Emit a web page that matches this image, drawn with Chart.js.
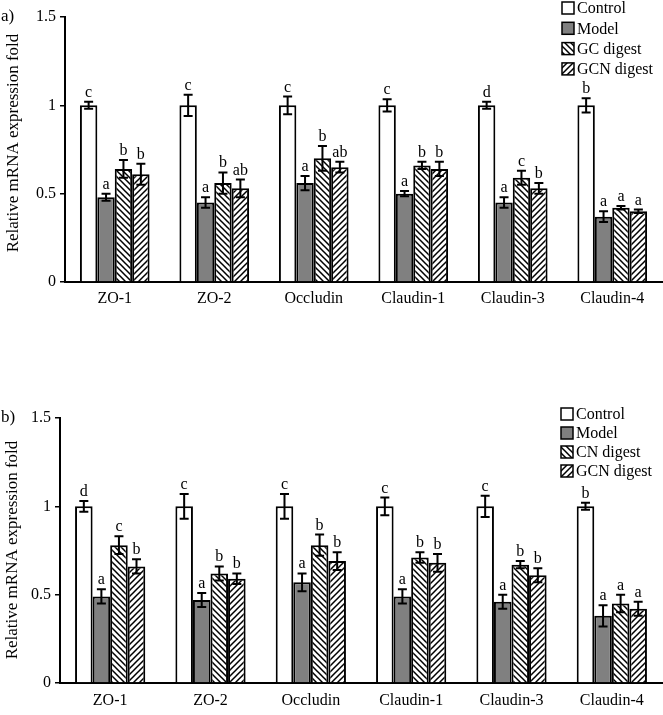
<!DOCTYPE html>
<html><head><meta charset="utf-8">
<script src="https://cdn.jsdelivr.net/npm/chart.js@4"></script>
<style>
body{margin:0;background:#fff;width:663px;height:715px;overflow:hidden;position:relative}
canvas{position:absolute;left:0}
#ca{top:0}
#cb{top:390px}
</style></head><body>
<canvas id="ca" width="663" height="310"></canvas>
<canvas id="cb" width="663" height="325"></canvas>
<script>
const categories = ['ZO-1','ZO-2','Occludin','Claudin-1','Claudin-3','Claudin-4'];
const seriesA = ['Control','Model','GC digest','GCN digest'];
const seriesB = ['Control','Model','CN digest','GCN digest'];
const yTicks = [0, 0.5, 1, 1.5];
const yTickLabels = ['0', '0.5', '1', '1.5'];
const yTitle = 'Relative mRNA expression fold';

// Panel a values
const controlA = [1.00, 1.00, 1.00, 1.00, 1.00, 1.00];
const modelA   = [0.48, 0.45, 0.56, 0.50, 0.45, 0.37];
const gcA      = [0.64, 0.56, 0.70, 0.66, 0.59, 0.42];
const gcnA     = [0.61, 0.53, 0.65, 0.64, 0.53, 0.40];
// Panel a error (± SD)
const controlErrA = [0.02, 0.06, 0.05, 0.035, 0.02, 0.04];
const modelErrA   = [0.02, 0.03, 0.04, 0.015, 0.03, 0.03];
const gcErrA      = [0.05, 0.06, 0.07, 0.02, 0.04, 0.01];
const gcnErrA     = [0.06, 0.05, 0.03, 0.04, 0.03, 0.01];
// Panel a letters
const controlLetA = ['c','c','c','c','d','b'];
const modelLetA   = ['a','a','a','a','a','a'];
const gcLetA      = ['b','b','b','b','c','a'];
const gcnLetA     = ['b','ab','ab','b','b','a'];

// Panel b values
const controlB = [1.00, 1.00, 1.00, 1.00, 1.00, 1.00];
const modelB   = [0.49, 0.47, 0.57, 0.49, 0.46, 0.38];
const cnB      = [0.78, 0.62, 0.78, 0.71, 0.67, 0.45];
const gcnB     = [0.66, 0.59, 0.69, 0.68, 0.61, 0.42];
// Panel b errors
const controlErrB = [0.03, 0.07, 0.07, 0.05, 0.06, 0.02];
const modelErrB   = [0.04, 0.04, 0.05, 0.04, 0.04, 0.06];
const cnErrB      = [0.05, 0.04, 0.06, 0.03, 0.02, 0.05];
const gcnErrB     = [0.04, 0.03, 0.05, 0.05, 0.04, 0.04];
// Panel b letters
const controlLetB = ['d','c','c','c','c','b'];
const modelLetB   = ['a','a','a','a','a','a'];
const cnLetB      = ['c','b','b','b','b','a'];
const gcnLetB     = ['b','b','b','b','b','a'];

const SERIF = '"Liberation Serif", "Times New Roman", serif';

function hatch(ctx, dir){
  const s = 6;
  const c = document.createElement('canvas');
  c.width = s; c.height = s;
  const g = c.getContext('2d');
  g.fillStyle = '#fff'; g.fillRect(0,0,s,s);
  g.strokeStyle = '#000'; g.lineWidth = 1.5; g.lineCap = 'square';
  g.beginPath();
  if (dir === 'back') {
    g.moveTo(-1,-1); g.lineTo(s+1,s+1);
    g.moveTo(-1,s-1); g.lineTo(1,s+1);
    g.moveTo(s-1,-1); g.lineTo(s+1,1);
  } else {
    g.moveTo(-1,s+1); g.lineTo(s+1,-1);
    g.moveTo(-1,1); g.lineTo(1,-1);
    g.moveTo(s-1,s+1); g.lineTo(s+1,s-1);
  }
  g.stroke();
  return ctx.createPattern(c, 'repeat');
}

const annotPlugin = {
  id: 'annot',
  afterDatasetsDraw(chart) {
    const o = chart.options.plugins.annot;
    const ctx = chart.ctx;
    const ys = chart.scales.y;
    ctx.save();
    chart.data.datasets.forEach((ds, i) => {
      const meta = chart.getDatasetMeta(i);
      meta.data.forEach((bar, j) => {
        const v = ds.data[j], e = o.errors[i][j];
        const yt = ys.getPixelForValue(v + e), yb = ys.getPixelForValue(v - e);
        ctx.strokeStyle = '#000'; ctx.lineWidth = 2;
        ctx.beginPath();
        ctx.moveTo(bar.x, yt); ctx.lineTo(bar.x, yb);
        ctx.moveTo(bar.x - 4.5, yt); ctx.lineTo(bar.x + 4.5, yt);
        ctx.moveTo(bar.x - 4.5, yb); ctx.lineTo(bar.x + 4.5, yb);
        ctx.stroke();
        ctx.fillStyle = '#000';
        ctx.font = '16px ' + SERIF;
        ctx.textAlign = 'center'; ctx.textBaseline = 'alphabetic';
        ctx.fillText(o.letters[i][j], bar.x, yt - 5);
      });
    });
    // legend
    chart.data.datasets.forEach((ds, i) => {
      const y = o.legY + i * o.legGap;
      ctx.fillStyle = ds.backgroundColor;
      ctx.fillRect(o.legX, y - 6, 12, 12);
      ctx.strokeStyle = '#000'; ctx.lineWidth = 1.5;
      ctx.strokeRect(o.legX, y - 6, 12, 12);
      ctx.fillStyle = '#000';
      ctx.font = '16px ' + SERIF;
      ctx.textAlign = 'left'; ctx.textBaseline = 'middle';
      ctx.fillText(ds.label, o.legX + 15, y + 1);
    });
    // y-axis title
    ctx.save();
    ctx.translate(o.titleX, o.titleY);
    ctx.rotate(-Math.PI / 2);
    ctx.font = '17px ' + SERIF;
    ctx.textAlign = 'center'; ctx.textBaseline = 'middle';
    ctx.fillStyle = '#000';
    ctx.fillText(yTitle, 0, 0);
    ctx.restore();
    // panel label
    ctx.font = '17px ' + SERIF;
    ctx.textAlign = 'left'; ctx.textBaseline = 'middle';
    ctx.fillStyle = '#000';
    ctx.fillText(o.panel, 1, o.panelY);
    ctx.restore();
  }
};

function makeChart(id, labels, vals, errs, lets, cfg) {
  const canvas = document.getElementById(id);
  const ctx = canvas.getContext('2d');
  const fills = ['#ffffff', '#808080', hatch(ctx, 'back'), hatch(ctx, 'fwd')];
  return new Chart(ctx, {
    type: 'bar',
    data: {
      labels: categories,
      datasets: labels.map((l, i) => ({
        label: l,
        data: vals[i],
        backgroundColor: fills[i],
        borderColor: '#000',
        borderWidth: 2,
        borderSkipped: 'start',
        barPercentage: 1.0,
        categoryPercentage: 0.70
      }))
    },
    options: {
      responsive: false,
      devicePixelRatio: 1,
      animation: false,
      layout: { padding: { top: cfg.top, right: 1, left: 0, bottom: 0 } },
      plugins: {
        legend: { display: false },
        tooltip: { enabled: false },
        annot: { errors: errs, letters: lets, legX: cfg.legX, legY: cfg.legY, legGap: cfg.legGap,
                 panel: cfg.panel, panelY: cfg.panelY, titleX: cfg.titleX, titleY: cfg.titleY }
      },
      scales: {
        x: {
          grid: { display: false, drawTicks: false },
          border: { display: true, color: '#000', width: 2 },
          ticks: { color: '#000', font: { family: SERIF, size: 16 }, padding: cfg.xPad, maxRotation: 0 },
          afterFit(s) { s.height = cfg.xH; }
        },
        y: {
          min: 0, max: 1.5,
          afterBuildTicks(s) { s.ticks = yTicks.map(v => ({ value: v })); },
          grid: { drawOnChartArea: false, drawTicks: true, tickLength: 5, color: '#000', lineWidth: 1.5 },
          border: { display: true, color: '#000', width: 2 },
          ticks: { color: '#000', font: { family: SERIF, size: 16 }, padding: 4,
                   callback: (v) => yTickLabels[yTicks.indexOf(v)] },
          title: { display: false },
          afterFit(s) { s.width = cfg.yW; }
        }
      }
    },
    plugins: [annotPlugin]
  });
}

makeChart('ca', seriesA,
  [controlA, modelA, gcA, gcnA],
  [controlErrA, modelErrA, gcErrA, gcnErrA],
  [controlLetA, modelLetA, gcLetA, gcnLetA],
  { top: 17, xH: 28, xPad: 7, yW: 65, legX: 562, legY: 8, legGap: 20.3, panel: 'a)', panelY: 17, titleX: 14, titleY: 143 });

makeChart('cb', seriesB,
  [controlB, modelB, cnB, gcnB],
  [controlErrB, modelErrB, cnErrB, gcnErrB],
  [controlLetB, modelLetB, cnLetB, gcnLetB],
  { top: 28, xH: 32, xPad: 8, yW: 60, legX: 561, legY: 24, legGap: 19, panel: 'b)', panelY: 28, titleX: 13, titleY: 160 });
</script>
</body></html>
